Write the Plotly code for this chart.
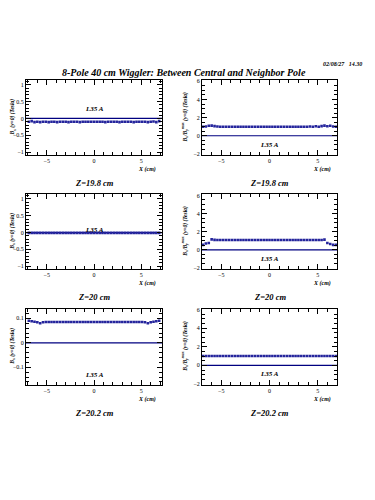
import plotly.graph_objects as go

# ---------------- data ----------------
x_cm = [-6.9, -6.6, -6.3, -6.0, -5.7, -5.4, -5.1, -4.8, -4.5, -4.2, -3.9, -3.6,
        -3.3, -3.0, -2.7, -2.4, -2.1, -1.8, -1.5, -1.2, -0.9, -0.6, -0.3, 0.0,
        0.3, 0.6, 0.9, 1.2, 1.5, 1.8, 2.1, 2.4, 2.7, 3.0, 3.3, 3.6, 3.9, 4.2,
        4.5, 4.8, 5.1, 5.4, 5.7, 6.0, 6.3, 6.6, 6.9]

bx_z198 = [-0.10, -0.08, -0.11, -0.10, -0.11, -0.10, -0.10, -0.11, -0.10, -0.10, -0.11, -0.10,
           -0.10, -0.10, -0.11, -0.10, -0.10, -0.10, -0.11, -0.10, -0.10, -0.10, -0.10, -0.10,
           -0.10, -0.10, -0.10, -0.11, -0.10, -0.10, -0.10, -0.10, -0.11, -0.10, -0.10, -0.10,
           -0.10, -0.11, -0.10, -0.10, -0.10, -0.10, -0.11, -0.10, -0.09, -0.11, -0.08]
rel_z198 = [1.00, 1.02, 1.10, 1.12, 1.06, 1.02, 1.00, 1.00, 1.00, 1.00, 1.00, 1.00,
            1.00, 1.00, 1.00, 1.00, 1.00, 1.00, 1.00, 1.00, 1.00, 1.00, 1.00, 1.00,
            1.00, 1.00, 1.00, 1.00, 1.00, 1.00, 1.00, 1.00, 1.00, 1.00, 1.00, 1.00,
            1.00, 1.02, 1.00, 1.04, 1.00, 1.06, 1.12, 1.04, 1.10, 1.02, 1.00]
bx_z200 = [-0.01, -0.01, -0.01, -0.01, -0.01, -0.01, -0.01, -0.01, -0.01, -0.01, -0.01, -0.01,
           -0.01, -0.01, -0.01, -0.01, -0.01, -0.01, -0.01, -0.01, -0.01, -0.01, -0.01, -0.01,
           -0.01, -0.01, -0.01, -0.01, -0.01, -0.01, -0.01, -0.01, -0.01, -0.01, -0.01, -0.01,
           -0.01, -0.01, -0.01, -0.01, -0.01, -0.01, -0.01, -0.01, -0.01, -0.01, -0.01]
rel_z200 = [0.55, 0.70, 0.75, 1.15, 1.10, 1.08, 1.08, 1.08, 1.08, 1.08, 1.08, 1.08,
            1.08, 1.08, 1.08, 1.08, 1.08, 1.08, 1.08, 1.08, 1.08, 1.08, 1.08, 1.08,
            1.08, 1.08, 1.08, 1.08, 1.08, 1.08, 1.08, 1.08, 1.08, 1.08, 1.08, 1.08,
            1.08, 1.08, 1.08, 1.08, 1.08, 1.08, 1.12, 0.75, 0.65, 0.55, 0.55]
bx_z202 = [0.090, 0.088, 0.086, 0.084, 0.080, 0.084, 0.085, 0.085, 0.085, 0.085, 0.085, 0.085,
           0.085, 0.085, 0.085, 0.085, 0.085, 0.085, 0.085, 0.085, 0.085, 0.085, 0.085, 0.085,
           0.085, 0.085, 0.085, 0.085, 0.085, 0.085, 0.085, 0.085, 0.085, 0.085, 0.085, 0.085,
           0.085, 0.085, 0.085, 0.085, 0.085, 0.084, 0.080, 0.084, 0.086, 0.088, 0.090]
rel_z202 = [1.00, 1.00, 1.00, 1.00, 1.00, 1.00, 1.00, 1.00, 1.00, 1.00, 1.00, 1.00,
            1.00, 1.00, 1.00, 1.00, 1.00, 1.00, 1.00, 1.00, 1.00, 1.00, 1.00, 1.00,
            1.00, 1.00, 1.00, 1.00, 1.00, 1.00, 1.00, 1.00, 1.00, 1.00, 1.00, 1.00,
            1.00, 1.00, 1.00, 1.00, 1.00, 1.00, 1.00, 1.00, 1.00, 1.00, 1.00]

panel_series = [bx_z198, rel_z198, bx_z200, rel_z200, bx_z202, rel_z202]
panel_z = ["Z=19.8 cm", "Z=19.8 cm", "Z=20 cm", "Z=20 cm", "Z=20.2 cm", "Z=20.2 cm"]
current_label = "L35 A"
label_y = [0.29, -1.0, 0.07, -1.0, -0.13, -0.9]
main_title = "8-Pole 40 cm Wiggler: Between Central and Neighbor Pole"
date_stamp = "02/08/27   14.30"

# ---------------- layout geometry ----------------
OFF = 8  # page body margin of the browser
W, H = 375 - OFF, 500 - OFF
col_px = [(26, 162), (202, 337)]
row_px = [(79, 154), (194, 269), (309, 386)]
ytitle_x = [13, 185]
yranges = [[-1.08, 1.13], [-2.1, 6.1], [-1.08, 1.13], [-2.1, 6.1], [-0.172, 0.14], [-2.1, 6.1]]
xranges = [[-7.2, 7.2], [-7.0, 7.0]]
ydticks = [(0.5, 0.1), (2, 0.5), (0.5, 0.1), (2, 0.5), (0.1, 0.02), (2, 0.5)]
ytitles = ["B<sub>x</sub> (y=0) (Tesla)", "B<sub>x</sub>/B<sub>y</sub><sup>max</sup> (y=0) (Tesla)"]

NAVY = "#000080"
PTS = "#24249c"
FONT = "Liberation Serif"


def px_x(v):
    return (v - OFF) / W


def px_y(v):
    return 1 - (v - OFF) / H


fig = go.Figure()
layout = {}
annotations = []

for i, ys in enumerate(panel_series):
    r, c = divmod(i, 2)
    n = i + 1
    xa = "x" if n == 1 else f"x{n}"
    ya = "y" if n == 1 else f"y{n}"
    fig.add_trace(go.Scatter(x=[xranges[c][0], xranges[c][1]], y=[0, 0], mode="lines",
                             line=dict(color=NAVY, width=1.2), xaxis=xa, yaxis=ya,
                             showlegend=False, hoverinfo="skip"))
    fig.add_trace(go.Scatter(x=x_cm, y=ys, mode="markers",
                             marker=dict(symbol="square", size=2.6, color=PTS, line=dict(width=0)),
                             xaxis=xa, yaxis=ya, showlegend=False))
    x0, x1 = col_px[c]
    y0, y1 = row_px[r]
    tickfont = dict(family=FONT, size=6, color="black")
    layout[f"xaxis{'' if n == 1 else n}"] = dict(
        domain=[px_x(x0), px_x(x1)], anchor=ya, range=xranges[c],
        showgrid=False, zeroline=False, showline=True, linecolor="black", linewidth=1,
        mirror="allticks", ticks="inside", ticklen=5, tickwidth=1, tickcolor="black",
        dtick=5, tick0=0, tickfont=tickfont,
        minor=dict(ticks="inside", ticklen=3, dtick=1, tickcolor="black", showgrid=False),
    )
    dmaj, dmin = ydticks[i]
    layout[f"yaxis{'' if n == 1 else n}"] = dict(
        domain=[px_y(y1), px_y(y0)], anchor=xa, range=yranges[i],
        showgrid=False, zeroline=False, showline=True, linecolor="black", linewidth=1,
        mirror="allticks", ticks="inside", ticklen=5, tickwidth=1, tickcolor="black",
        dtick=dmaj, tick0=0, tickfont=tickfont,
        minor=dict(ticks="inside", ticklen=3, dtick=dmin, tickcolor="black", showgrid=False),
    )
    annotations.append(dict(x=px_x(ytitle_x[c]), y=px_y((y0 + y1) / 2), xref="paper", yref="paper",
                            text=f"<b><i>{ytitles[c]}</i></b>", textangle=-90, showarrow=False,
                            font=dict(family=FONT, size=5.5, color="black"),
                            xanchor="center", yanchor="middle"))
    annotations.append(dict(x=px_x(x1 - 4), y=px_y(y1 + 15), xref="paper", yref="paper",
                            text="<b><i>X (cm)</i></b>", showarrow=False,
                            font=dict(family=FONT, size=6, color="black"),
                            xanchor="right", yanchor="middle"))
    annotations.append(dict(x=px_x((x0 + x1) / 2), y=px_y(y1 + 28), xref="paper", yref="paper",
                            text=f"<b><i>{panel_z[i]}</i></b>", showarrow=False,
                            font=dict(family=FONT, size=8.5, color="black"),
                            xanchor="center", yanchor="middle"))
    annotations.append(dict(x=0, y=label_y[i], xref=xa, yref=ya,
                            text=f"<b><i>{current_label}</i></b>", showarrow=False,
                            font=dict(family=FONT, size=7, color="black"),
                            xanchor="center", yanchor="middle"))

annotations.append(dict(x=px_x(184), y=px_y(71), xref="paper", yref="paper",
                        text=f"<b><i>{main_title}</i></b>", showarrow=False,
                        font=dict(family=FONT, size=10, color="black"),
                        xanchor="center", yanchor="middle"))
annotations.append(dict(x=px_x(364), y=px_y(62), xref="paper", yref="paper",
                        text=f"<b><i>{date_stamp}</i></b>", showarrow=False,
                        font=dict(family=FONT, size=6, color="black"),
                        xanchor="right", yanchor="middle"))

fig.update_layout(
    width=W, height=H, margin=dict(l=0, r=0, t=0, b=0),
    paper_bgcolor="white", plot_bgcolor="white",
    annotations=annotations, **layout,
)

fig.write_html("out.html")
